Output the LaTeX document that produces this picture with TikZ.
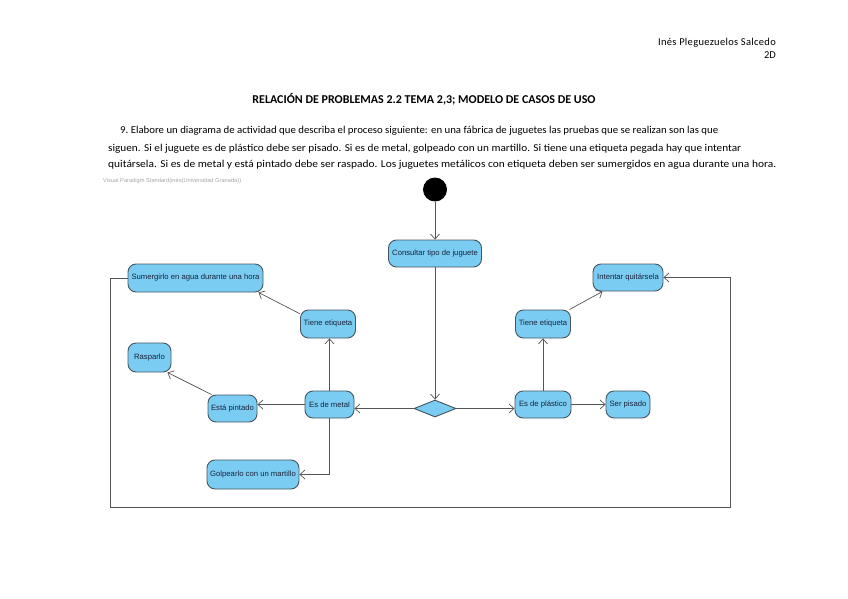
\documentclass[tikz,border=0pt]{standalone}
\usepackage{fontspec}
\setmainfont{Carlito}
\newfontfamily\arialf{Liberation Sans}
\usetikzlibrary{arrows.meta,shapes.geometric}
\definecolor{actfill}{RGB}{122,204,242}
\definecolor{actdraw}{RGB}{70,85,95}
\definecolor{acttext}{RGB}{25,35,60}
\definecolor{linec}{RGB}{85,85,85}
\begin{document}
\begin{tikzpicture}[x=1pt,y=-1pt,
  act/.style={draw=actdraw, line width=0.9pt, fill=actfill, rounded corners=8pt,
    font=\arialf\fontsize{7.7}{9}\selectfont, text=acttext, inner sep=0pt, minimum height=27pt},
  flow/.style={draw=linec, line width=0.7pt, -{Straight Barb[length=5pt,width=9pt]}},
  doctext/.style={font=\fontsize{10.5}{12}\selectfont, inner sep=0pt},
]
\useasboundingbox (0,0) rectangle (848,599);

% header texts
\node[doctext, anchor=base east] (author) at (776,46) {\addfontfeatures{LetterSpace=3}Inés Pleguezuelos Salcedo};
\node[doctext, anchor=base east] (grp) at (776,59) {2D};
\node[doctext, anchor=base, font=\fontsize{12}{14}\selectfont\bfseries] (title) at (424,104) {RELACIÓN DE PROBLEMAS 2.2 TEMA 2,3; MODELO DE CASOS DE USO};
\node[doctext, anchor=base west] (l1) at (120,134) {\resizebox{598pt}{\height}{9.\ Elabore un diagrama de actividad que describa el proceso siguiente: en una fábrica de juguetes las pruebas que se realizan son las que}};
\node[doctext, anchor=base west] (l2) at (108,151) {\resizebox{633pt}{\height}{siguen. Si el juguete es de plástico debe ser pisado. Si es de metal, golpeado con un martillo. Si tiene una etiqueta pegada hay que intentar}};
\node[doctext, anchor=base west] (l3) at (108,167) {\resizebox{668pt}{\height}{quitársela. Si es de metal y está pintado debe ser raspado. Los juguetes metálicos con etiqueta deben ser sumergidos en agua durante una hora.}};
\node[anchor=west, inner sep=0pt, text=gray!70, font=\arialf\fontsize{5.7}{6.5}\selectfont] (wm) at (103,180.5) {Visual Paradigm Standard(inés(Universidad Granada))};

% activity nodes
\node[circle, fill=black, minimum size=24pt, inner sep=0pt] (init) at (435,189.5) {};
\node[act, minimum width=93pt] (consultar) at (435,253.5) {Consultar tipo de juguete};
\node[diamond, draw=actdraw, line width=0.9pt, fill=actfill, minimum width=42pt, minimum height=17pt, inner sep=0pt] (dec) at (435,408.5) {};
\node[act, minimum width=49pt] (metal) at (329.5,404.5) {Es de metal};
\node[act, minimum width=56pt] (plastico) at (543,404.5) {Es de plástico};
\node[act, minimum width=44pt] (pisado) at (628,404.5) {Ser pisado};
\node[act, minimum width=55pt, minimum height=28pt] (etiqR) at (543,324) {Tiene etiqueta};
\node[act, minimum width=70pt] (intentar) at (628,277.5) {Intentar quitársela};
\node[act, minimum width=55pt, minimum height=28pt] (etiqL) at (328,324) {Tiene etiqueta};
\node[act, minimum width=135pt, minimum height=28pt] (sumerg) at (195.5,278) {Sumergirlo en agua durante una hora};
\node[act, minimum width=43pt, minimum height=29pt] (rasparlo) at (149.5,357.5) {Rasparlo};
\node[act, minimum width=49pt] (pintado) at (232.5,408.5) {Está pintado};
\node[act, minimum width=92pt, minimum height=29pt] (golpe) at (253,474.5) {Golpearlo con un martillo};

\coordinate (loopBL) at (110,507);
\coordinate (loopBR) at (730,507);

% connectors
\draw[flow] (init) -- (consultar);
\draw[flow] (consultar) -- (dec);
\draw[flow] (dec.west) -- (metal.east |- dec.west);
\draw[flow] (dec.east) -- (plastico.west |- dec.east);
\draw[flow] (plastico) -- (pisado);
\draw[flow] (plastico) -- (etiqR);
\draw[flow] (etiqR) -- (intentar);
\draw[flow] (metal.north) -- (metal.north |- etiqL.south);
\draw[flow] (etiqL.160) -- ([xshift=-5pt]sumerg.south east);
\draw[flow] (metal.west) -- (metal.west -| pintado.east);
\draw[flow] ([xshift=4pt]pintado.north west) -- ([xshift=-4pt]rasparlo.south east);
\draw[flow] (metal.south) |- (golpe.east);
\draw[flow] (sumerg.west) -| (loopBL) -- (loopBR) |- (intentar.east);
\end{tikzpicture}
\end{document}
